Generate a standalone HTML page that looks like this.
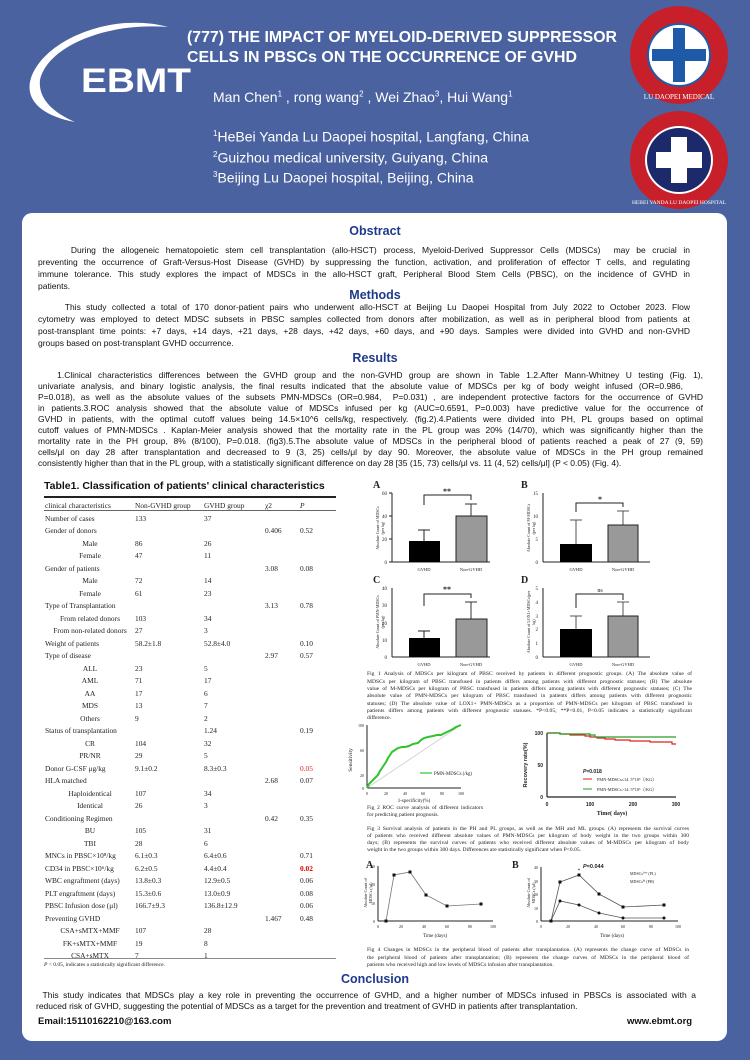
<!DOCTYPE html>
<html><head><meta charset="utf-8">
<style>
*{margin:0;padding:0;box-sizing:border-box}
body{width:750px;height:1060px;background:#4a62a0;position:relative;overflow:hidden;font-family:"Liberation Sans",Arial,sans-serif}
.a{position:absolute;white-space:nowrap}
.panel{position:absolute;left:22px;top:213px;width:705px;height:828px;background:#fff;border-radius:10px}
.h{position:absolute;left:0;width:750px;text-align:center;color:#1f3a8a;font-weight:bold;font-size:12.5px}
.ln{position:absolute;font-size:8.5px;color:#111;text-align:justify;text-align-last:justify;white-space:nowrap;overflow:visible}
.tb{position:absolute;font-family:"Liberation Serif",serif;font-size:7.4px;color:#222;white-space:nowrap}
.cap{position:absolute;font-family:"Liberation Serif",serif;font-size:5.6px;color:#222;text-align:justify;text-align-last:justify;white-space:nowrap;height:7px}
</style></head><body>
<!-- header -->
<svg class="a" style="left:0;top:0" width="750" height="213">
<path d="M168,27 C115,12 45,38 31,78 C24,100 42,116 75,122 C52,112 38,98 40,80 C48,45 110,22 168,27 Z" fill="#fff"/>
<text x="81" y="92" font-family="Liberation Sans" font-weight="bold" font-size="34" fill="#fff" textLength="110" lengthAdjust="spacingAndGlyphs">EBMT</text>
<text x="187" y="42" font-family="Liberation Sans" font-weight="bold" font-size="15.5" fill="#fff" textLength="430" lengthAdjust="spacingAndGlyphs">(777) THE IMPACT OF MYELOID-DERIVED SUPPRESSOR</text>
<text x="187" y="62" font-family="Liberation Sans" font-weight="bold" font-size="15.5" fill="#fff" textLength="390" lengthAdjust="spacingAndGlyphs">CELLS IN PBSCs ON THE OCCURRENCE OF  GVHD</text>
<circle cx="679" cy="55" r="49" fill="#c7202b"/>
<circle cx="679" cy="55" r="31" fill="#fff" stroke="#1e5aa8" stroke-width="2"/>
<rect x="673" y="28" width="12" height="54" fill="#1e5aa8"/>
<rect x="652" y="49" width="54" height="12" fill="#1e5aa8"/>
<circle cx="679" cy="160" r="49" fill="#c7202b"/>
<circle cx="679" cy="160" r="34" fill="#fff"/>
<circle cx="679" cy="160" r="32" fill="#1c2a6b"/>
<rect x="671" y="137" width="16" height="46" fill="#fff"/>
<rect x="656" y="152" width="46" height="16" fill="#fff"/>
<text x="679" y="99" text-anchor="middle" font-family="Liberation Serif" font-size="7" fill="#fff">LU DAOPEI MEDICAL</text>
<text x="679" y="204" text-anchor="middle" font-family="Liberation Serif" font-size="5.5" fill="#fff">HEBEI YANDA LU DAOPEI HOSPITAL</text>
</svg>
<div class="a" style="left:213px;top:89px;color:#fff;font-size:14px">Man Chen<sup style="font-size:8px">1</sup> , rong wang<sup style="font-size:8px">2</sup> , Wei Zhao<sup style="font-size:8px">3</sup>, Hui Wang<sup style="font-size:8px">1</sup></div>
<div class="a" style="left:213px;top:125px;color:#fff;font-size:14px;line-height:18px"><sup style="font-size:8px">1</sup>HeBei Yanda Lu Daopei hospital, Langfang, China<br><sup style="font-size:8px">2</sup>Guizhou medical university, Guiyang, China<br><sup style="font-size:8px">3</sup>Beijing Lu Daopei hospital, Beijing, China</div>

<div class="panel"></div>
<div class="h" style="top:224px">Obstract</div>
<div class="ln" style="left:38px;width:652px;top:245px">&nbsp;&nbsp;&nbsp;&nbsp;&nbsp;During the allogeneic hematopoietic stem cell transplantation (allo-HSCT) process, Myeloid-Derived Suppressor Cells (MDSCs)&nbsp; may be crucial in</div>
<div class="ln" style="left:38px;width:652px;top:257px">preventing the occurrence of Graft-Versus-Host Disease (GVHD) by suppressing the function, activation, and proliferation of effector T cells, and regulating</div>
<div class="ln" style="left:38px;width:652px;top:269px">immune tolerance. This study explores the impact of MDSCs in the allo-HSCT graft, Peripheral Blood Stem Cells (PBSC), on the incidence of GVHD in</div>
<div class="ln" style="left:38px;top:281px;text-align-last:left">patients.</div>
<div class="h" style="top:288px">Methods</div>
<div class="ln" style="left:38px;width:652px;top:302px">&nbsp;&nbsp;&nbsp;&nbsp;&nbsp;This study collected a total of 170 donor-patient pairs who underwent allo-HSCT at Beijing Lu Daopei Hospital from July 2022 to October 2023. Flow</div>
<div class="ln" style="left:38px;width:652px;top:314px">cytometry was employed to detect MDSC subsets in PBSC samples collected from donors after mobilization, as well as in peripheral blood from patients at</div>
<div class="ln" style="left:38px;width:652px;top:326px">post-transplant time points: +7 days, +14 days, +21 days, +28 days, +42 days, +60 days, and +90 days. Samples were divided into GVHD and non-GVHD</div>
<div class="ln" style="left:38px;top:338px;text-align-last:left">groups based on post-transplant GVHD occurrence.</div>
<div class="h" style="top:351px">Results</div>
<div class="ln" style="left:38px;width:665px;top:370px">&nbsp;&nbsp;&nbsp;1.Clinical characteristics differences between the GVHD group and the non-GVHD group are shown in Table 1.2.After Mann-Whitney U testing (Fig. 1),</div>
<div class="ln" style="left:38px;width:645px;top:381px">univariate analysis, and binary logistic analysis, the final results indicated that the absolute value of MDSCs per kg of body weight infused (OR=0.986,</div>
<div class="ln" style="left:38px;width:665px;top:392px">P=0.018), as well as the absolute values of the subsets PMN-MDSCs (OR=0.984,&nbsp; P=0.031) , are independent protective factors for the occurrence of GVHD</div>
<div class="ln" style="left:38px;width:665px;top:403px">in patients.3.ROC analysis showed that the absolute value of MDSCs infused per kg (AUC=0.6591, P=0.003) have predictive value for the occurrence of</div>
<div class="ln" style="left:38px;width:665px;top:414px">GVHD in patients, with the optimal cutoff values being 14.5×10^6 cells/kg, respectively. (fig.2).4.Patients were divided into PH, PL groups based on optimal</div>
<div class="ln" style="left:38px;width:665px;top:425px">cutoff values of PMN-MDSCs . Kaplan-Meier analysis showed that the mortality rate in the PL group was 20% (14/70), which was significantly higher than the</div>
<div class="ln" style="left:38px;width:665px;top:436px">mortality rate in the PH group, 8% (8/100), P=0.018. (fig3).5.The absolute value of MDSCs in the peripheral blood of patients reached a peak of 27 (9, 59)</div>
<div class="ln" style="left:38px;width:665px;top:447px">cells/μl on day 28 after transplantation and decreased to 9 (3, 25) cells/μl by day 90. Moreover, the absolute value of MDSCs in the PH group remained</div>
<div class="ln" style="left:38px;top:458px;text-align-last:left">consistently higher than that in the PL group, with a statistically significant difference on day 28 [35 (15, 73) cells/μl vs. 11 (4, 52) cells/μl] (P &lt; 0.05) (Fig. 4).</div>

<!-- Table -->
<div class="a" style="left:44px;top:480px;font-weight:bold;font-size:10.5px;color:#111">Table1. Classification of patients' clinical characteristics</div>
<div class="a" style="left:44px;top:496px;width:292px;height:1.6px;background:#222"></div>
<div class="a" style="left:44px;top:510px;width:292px;height:0.8px;background:#666"></div>
<div class="a" style="left:44px;top:958px;width:292px;height:0.8px;background:#888"></div>
<div class="tb" style="left:45px;top:501px">clinical characteristics</div>
<div class="tb" style="left:135px;top:501px">Non-GVHD group</div>
<div class="tb" style="left:204px;top:501px">GVHD group</div>
<div class="tb" style="left:265px;top:501px">χ2</div>
<div class="tb" style="left:300px;top:501px;font-style:italic">P</div>
<div id="rows"></div>
<div class="tb" style="left:44px;top:962px;font-size:5.5px"><i>P</i> &lt; 0.05, indicates a statistically significant difference.</div>

<!-- Figures -->
<svg class="a" style="left:0;top:0" width="750" height="1060" font-family="Liberation Serif">
<g font-size="5" fill="#222">
<text x="373" y="488" font-size="10" font-weight="bold" font-family="Liberation Serif">A</text>
<line x1="392" y1="493" x2="392" y2="562" stroke="#222"/><line x1="392" y1="562" x2="490" y2="562" stroke="#222"/>
<g stroke="#222"><line x1="389" y1="493" x2="392" y2="493"/><line x1="389" y1="516" x2="392" y2="516"/><line x1="389" y1="539" x2="392" y2="539"/><line x1="389" y1="562" x2="392" y2="562"/></g>
<text x="387" y="495" text-anchor="end">60</text><text x="387" y="518" text-anchor="end">40</text><text x="387" y="541" text-anchor="end">20</text><text x="387" y="564" text-anchor="end">0</text>
<line x1="424" y1="530" x2="424" y2="541" stroke="#222"/><line x1="418" y1="530" x2="430" y2="530" stroke="#222"/>
<rect x="409" y="541" width="31" height="21" fill="#000"/>
<line x1="471" y1="504" x2="471" y2="516" stroke="#333"/><line x1="465" y1="504" x2="477" y2="504" stroke="#333"/>
<rect x="456" y="516" width="31" height="46" fill="#999" stroke="#222"/>
<path d="M424,505 V495 H471 V500" fill="none" stroke="#222"/>
<text x="447" y="494" font-size="8" text-anchor="middle" font-weight="bold">**</text>
<text x="424" y="571" text-anchor="middle" font-size="4.5">GVHD</text><text x="471" y="571" text-anchor="middle" font-size="4.5">Non-GVHD</text>
<text transform="translate(379,528) rotate(-90)" text-anchor="middle" font-size="4">Absolute Count of MDSCs</text>
<text transform="translate(384,528) rotate(-90)" text-anchor="middle" font-size="4">(per kg)</text>
<text x="521" y="488" font-size="10" font-weight="bold">B</text>
<line x1="543" y1="493" x2="543" y2="562" stroke="#222"/><line x1="543" y1="562" x2="650" y2="562" stroke="#222"/>
<text x="538" y="495" text-anchor="end">15</text><text x="538" y="518" text-anchor="end">10</text><text x="538" y="541" text-anchor="end">5</text><text x="538" y="564" text-anchor="end">0</text>
<line x1="576" y1="520" x2="576" y2="544" stroke="#555"/><line x1="570" y1="520" x2="582" y2="520" stroke="#555"/>
<rect x="560" y="544" width="32" height="18" fill="#000"/>
<line x1="623" y1="511" x2="623" y2="525" stroke="#555"/><line x1="617" y1="511" x2="629" y2="511" stroke="#555"/>
<rect x="608" y="525" width="30" height="37" fill="#999" stroke="#222"/>
<path d="M576,512 V503 H623 V507" fill="none" stroke="#222"/>
<text x="600" y="502" font-size="8" text-anchor="middle" font-weight="bold">*</text>
<text x="576" y="571" text-anchor="middle" font-size="4.5">GVHD</text><text x="623" y="571" text-anchor="middle" font-size="4.5">Non-GVHD</text>
<text transform="translate(530,528) rotate(-90)" text-anchor="middle" font-size="4">Absolute Count of M-MDSCs</text>
<text transform="translate(535,528) rotate(-90)" text-anchor="middle" font-size="4">(per kg)</text>
<text x="373" y="583" font-size="10" font-weight="bold">C</text>
<line x1="392" y1="588" x2="392" y2="657" stroke="#222"/><line x1="392" y1="657" x2="490" y2="657" stroke="#222"/>
<text x="387" y="590" text-anchor="end">40</text><text x="387" y="607" text-anchor="end">30</text><text x="387" y="625" text-anchor="end">20</text><text x="387" y="642" text-anchor="end">10</text><text x="387" y="659" text-anchor="end">0</text>
<line x1="424" y1="631" x2="424" y2="638" stroke="#222"/><line x1="418" y1="631" x2="430" y2="631" stroke="#222"/>
<rect x="409" y="638" width="31" height="19" fill="#000"/>
<line x1="471" y1="602" x2="471" y2="619" stroke="#333"/><line x1="465" y1="602" x2="477" y2="602" stroke="#333"/>
<rect x="456" y="619" width="31" height="38" fill="#999" stroke="#222"/>
<path d="M424,606 V594 H471 V598" fill="none" stroke="#222"/>
<text x="447" y="592" font-size="8" text-anchor="middle" font-weight="bold">**</text>
<text x="424" y="666" text-anchor="middle" font-size="4.5">GVHD</text><text x="471" y="666" text-anchor="middle" font-size="4.5">Non-GVHD</text>
<text transform="translate(379,622) rotate(-90)" text-anchor="middle" font-size="4">Absolute Count of PMN-MDSCs</text>
<text transform="translate(384,622) rotate(-90)" text-anchor="middle" font-size="4">(per kg)</text>
<text x="521" y="583" font-size="10" font-weight="bold">D</text>
<line x1="543" y1="588" x2="543" y2="657" stroke="#222"/><line x1="543" y1="657" x2="650" y2="657" stroke="#222"/>
<text x="538" y="590" text-anchor="end">5</text><text x="538" y="604" text-anchor="end">4</text><text x="538" y="618" text-anchor="end">3</text><text x="538" y="631" text-anchor="end">2</text><text x="538" y="645" text-anchor="end">1</text><text x="538" y="659" text-anchor="end">0</text>
<line x1="576" y1="616" x2="576" y2="629" stroke="#555"/><line x1="570" y1="616" x2="582" y2="616" stroke="#555"/>
<rect x="560" y="629" width="32" height="28" fill="#000"/>
<line x1="623" y1="602" x2="623" y2="616" stroke="#555"/><line x1="617" y1="602" x2="629" y2="602" stroke="#555"/>
<rect x="608" y="616" width="30" height="41" fill="#999" stroke="#222"/>
<path d="M576,608 V594 H623 V600" fill="none" stroke="#222"/>
<text x="600" y="592" font-size="6" text-anchor="middle">ns</text>
<text x="576" y="666" text-anchor="middle" font-size="4.5">GVHD</text><text x="623" y="666" text-anchor="middle" font-size="4.5">Non-GVHD</text>
<text transform="translate(530,622) rotate(-90)" text-anchor="middle" font-size="4">Absolute Count of LOX1+MDSCs(per</text>
<text transform="translate(535,622) rotate(-90)" text-anchor="middle" font-size="4">kg)</text>

<line x1="367" y1="725" x2="367" y2="788" stroke="#222"/><line x1="367" y1="788" x2="461" y2="788" stroke="#222"/>
<text x="364" y="727" text-anchor="end" font-size="4">100</text><text x="364" y="752" text-anchor="end" font-size="4">60</text><text x="364" y="777" text-anchor="end" font-size="4">20</text><text x="364" y="790" text-anchor="end" font-size="4">0</text>
<g font-size="4" text-anchor="middle"><text x="367" y="795">0</text><text x="386" y="795">20</text><text x="405" y="795">40</text><text x="423" y="795">60</text><text x="442" y="795">80</text><text x="461" y="795">100</text></g>
<line x1="367" y1="788" x2="461" y2="725" stroke="#ccc" stroke-width="0.8"/>
<polyline points="367,788 369,784 372,781 375,778 378,775 380,771 382,768 384,765 386,762 388,758 390,755 392,752 395,750 398,748 402,747 405,747 409,746 413,744 418,743 421,740 424,738 428,737 433,736 437,735 441,735 445,733 449,731 453,729 456,727 461,725" fill="none" stroke="#2fc42f" stroke-width="2"/>
<text transform="translate(352,760) rotate(-90)" text-anchor="middle" font-size="5.5">Sensitivity</text>
<text x="414" y="802" text-anchor="middle" font-size="5">1-specificity(%)</text>
<line x1="420" y1="773" x2="432" y2="773" stroke="#2fc42f" stroke-width="1.2"/>
<text x="434" y="775" font-size="4.8">PMN-MDSCs (/kg)</text>

<line x1="547" y1="733" x2="547" y2="797" stroke="#222" stroke-width="1.2"/><line x1="547" y1="797" x2="676" y2="797" stroke="#222" stroke-width="1.2"/>
<g font-size="5" font-weight="bold" font-family="Liberation Sans"><text x="543" y="735" text-anchor="end">100</text><text x="543" y="767" text-anchor="end">50</text><text x="543" y="799" text-anchor="end">0</text>
<text x="547" y="806" text-anchor="middle">0</text><text x="590" y="806" text-anchor="middle">100</text><text x="633" y="806" text-anchor="middle">200</text><text x="676" y="806" text-anchor="middle">300</text></g>
<polyline points="547,733 560,733 560,734 570,734 570,735 585,735 585,736 590,736 590,737 597,737 597,738 605,738 605,739 615,739 615,740 630,740 630,741 650,741 650,742 672,742 672,744 676,744" fill="none" stroke="#dd2222" stroke-width="1.2"/>
<polyline points="547,733 560,733 560,734 590,734 590,735 595,735 595,737 676,737" fill="none" stroke="#2a9a2a" stroke-width="1.2"/>
<text x="583" y="773" font-size="5" font-weight="bold" font-family="Liberation Sans"><tspan font-style="italic">P</tspan>=0.018</text>
<line x1="583" y1="779" x2="592" y2="779" stroke="#dd2222"/><text x="597" y="781" font-size="4.3">PMN-MDSCs≤14. 5*10⁶（/KG）</text>
<line x1="583" y1="789" x2="592" y2="789" stroke="#2a9a2a"/><text x="597" y="791" font-size="4.3">PMN-MDSCs&gt;14. 5*10⁶（/KG）</text>
<text transform="translate(527,765) rotate(-90)" text-anchor="middle" font-size="5.5" font-weight="bold" font-family="Liberation Sans">Recovery rate(%)</text>
<text x="612" y="815" text-anchor="middle" font-size="6" font-weight="bold">Time( days)</text>

<text x="366" y="868" font-size="10" font-weight="bold">A</text>
<line x1="378" y1="866" x2="378" y2="921" stroke="#222"/><line x1="378" y1="921" x2="493" y2="921" stroke="#222"/>
<g font-size="4" text-anchor="end"><text x="375" y="868">30</text><text x="375" y="886">20</text><text x="375" y="905">10</text><text x="375" y="923">0</text></g>
<g font-size="4" text-anchor="middle"><text x="378" y="928">0</text><text x="401" y="928">20</text><text x="424" y="928">40</text><text x="447" y="928">60</text><text x="470" y="928">80</text><text x="493" y="928">100</text></g>
<polyline points="386,921 394,875 410,872 426,895 447,906 481,904" fill="none" stroke="#777" stroke-width="0.8"/>
<g fill="#111"><rect x="384.5" y="919.5" width="3" height="3"/><rect x="392.5" y="873.5" width="3" height="3"/><rect x="408.5" y="870.5" width="3" height="3"/><rect x="424.5" y="893.5" width="3" height="3"/><rect x="445.5" y="904.5" width="3" height="3"/><rect x="479.5" y="902.5" width="3" height="3"/></g>
<text transform="translate(367,893) rotate(-90)" text-anchor="middle" font-size="4">Absolute Count of</text>
<text transform="translate(372,893) rotate(-90)" text-anchor="middle" font-size="4">MDSCs (/μl)</text>
<text x="435" y="937" text-anchor="middle" font-size="5">Time  (days)</text>
<text x="512" y="868" font-size="10" font-weight="bold">B</text>
<line x1="541" y1="867" x2="541" y2="921" stroke="#222"/><line x1="541" y1="921" x2="678" y2="921" stroke="#222"/>
<g font-size="4" text-anchor="end"><text x="538" y="869">40</text><text x="538" y="883">30</text><text x="538" y="896">20</text><text x="538" y="910">10</text><text x="538" y="923">0</text></g>
<g font-size="4" text-anchor="middle"><text x="541" y="928">0</text><text x="568" y="928">20</text><text x="596" y="928">40</text><text x="623" y="928">60</text><text x="651" y="928">80</text><text x="678" y="928">100</text></g>
<polyline points="551,921 560,882 579,875 599,894 623,907 664,905" fill="none" stroke="#555" stroke-width="0.8"/>
<polyline points="551,921 560,901 579,905 599,913 623,918 664,918" fill="none" stroke="#555" stroke-width="0.8"/>
<g fill="#111"><rect x="549.5" y="919.5" width="3" height="3"/><rect x="558.5" y="880.5" width="3" height="3"/><rect x="577.5" y="873.5" width="3" height="3"/><rect x="597.5" y="892.5" width="3" height="3"/><rect x="621.5" y="905.5" width="3" height="3"/><rect x="662.5" y="903.5" width="3" height="3"/>
<circle cx="560" cy="901" r="1.5"/><circle cx="579" cy="905" r="1.5"/><circle cx="599" cy="913" r="1.5"/><circle cx="623" cy="918" r="1.5"/><circle cx="664" cy="918" r="1.5"/></g>
<text x="579" y="872" font-size="5" text-anchor="middle">*</text>
<text x="583" y="868" font-size="5.5" font-weight="bold" font-family="Liberation Sans"><tspan font-style="italic">P</tspan>=0.044</text>
<text x="630" y="875" font-size="4">MDSCs<tspan font-size="3" dy="-1.5">low</tspan><tspan dy="1.5"> (PL)</tspan></text>
<text x="630" y="883" font-size="4">MDSCs<tspan font-size="3" dy="-1.5">hi</tspan><tspan dy="1.5"> (PH)</tspan></text>
<text transform="translate(530,893) rotate(-90)" text-anchor="middle" font-size="4">Absolute Count of</text>
<text transform="translate(535,893) rotate(-90)" text-anchor="middle" font-size="4">MDSCs (/μl)</text>
<text x="612" y="937" text-anchor="middle" font-size="5">Time  (days)</text>
</g>
</svg>

<div class="cap" style="left:367px;width:325px;top:671px">Fig 1 Analysis of MDSCs per kilogram of PBSC received by patients in different prognostic groups. (A) The absolute value of</div>
<div class="cap" style="left:367px;width:325px;top:679px">MDSCs per kilogram of PBSC transfused in patients differs among patients with different prognostic statuses; (B) The absolute</div>
<div class="cap" style="left:367px;width:325px;top:686px">value of M-MDSCs per kilogram of PBSC transfused in patients differs among patients with different prognostic statuses; (C) The</div>
<div class="cap" style="left:367px;width:325px;top:693px">absolute value of PMN-MDSCs per kilogram of PBSC transfused in patients differs among patients with different prognostic</div>
<div class="cap" style="left:367px;width:325px;top:701px">statuses; (D) The absolute value of LOX1+ PMN-MDSCs as a proportion of PMN-MDSCs per kilogram of PBSC transfused in</div>
<div class="cap" style="left:367px;width:325px;top:708px">patients differs among patients with different prognostic statuses. *P&lt;0.05, **P&lt;0.01, P&lt;0.05 indicates a statistically significant</div>
<div class="cap" style="left:367px;top:715px">difference.</div>
<div class="cap" style="left:367px;width:116px;top:805px">Fig 2 ROC curve analysis of different indicators</div>
<div class="cap" style="left:367px;top:812px">for predicting patient prognosis.</div>
<div class="cap" style="left:367px;width:322px;top:826px">Fig 3 Survival analysis of patients in the PH and PL groups, as well as the MH and ML groups. (A) represents the survival curves</div>
<div class="cap" style="left:367px;width:322px;top:833px">of patients who received different absolute values of PMN-MDSCs per kilogram of body weight in the two groups within 300</div>
<div class="cap" style="left:367px;width:322px;top:840px">days; (B) represents the survival curves of patients who received different absolute values of M-MDSCs per kilogram of body</div>
<div class="cap" style="left:367px;top:847px">weight in the two groups within 300 days. Differences are statistically significant when P&lt;0.05.</div>
<div class="cap" style="left:367px;width:322px;top:947px">Fig 4 Changes in MDSCs in the peripheral blood of patients after transplantation. (A) represents the change curve of MDSCs in</div>
<div class="cap" style="left:367px;width:322px;top:955px">the peripheral blood of patients after transplantation; (B) represents the change curves of MDSCs in the peripheral blood of</div>
<div class="cap" style="left:367px;top:962px">patients who received high and low levels of MDSCs infusion after transplantation.</div>

<div class="h" style="top:972px">Conclusion</div>
<div class="ln" style="left:38px;width:658px;top:990px">&nbsp;This study indicates that MDSCs play a key role in preventing the occurrence of GVHD, and a higher number of MDSCs infused in PBSCs is associated with a</div>
<div class="ln" style="left:36px;top:1001px;text-align-last:left">reduced risk of GVHD, suggesting the potential of MDSCs as a target for the prevention and treatment of GVHD in patients after transplantation.</div>
<div class="a" style="left:38px;top:1016px;font-weight:bold;font-size:9.5px;color:#111">Email:15110162210@163.com</div>
<div class="a" style="left:627px;top:1016px;font-weight:bold;font-size:9.5px;color:#111">www.ebmt.org</div>

<script>
var R=[["Number of cases","133","37","",""],["Gender of donors","","","0.406","0.52"],["*Male","86","26","",""],["*Female","47","11","",""],["Gender of patients","","","3.08","0.08"],["*Male","72","14","",""],["*Female","61","23","",""],["Type of Transplantation","","","3.13","0.78"],["*From related donors","103","34","",""],["*From non-related donors","27","3","",""],["Weight of patients","58.2±1.8","52.8±4.0","","0.10"],["Type of disease","","","2.97","0.57"],["*ALL","23","5","",""],["*AML","71","17","",""],["*AA","17","6","",""],["*MDS","13","7","",""],["*Others","9","2","",""],["Status of transplantation","","1.24","","0.19"],["*CR","104","32","",""],["*PR/NR","29","5","",""],["Donor G-CSF μg/kg","9.1±0.2","8.3±0.3","","r0.05"],["HLA matched","","","2.68","0.07"],["*Haploidentical","107","34","",""],["*Identical","26","3","",""],["Conditioning Regimen","","","0.42","0.35"],["*BU","105","31","",""],["*TBI","28","6","",""],["MNCs in PBSC×10⁸/kg","6.1±0.3","6.4±0.6","","0.71"],["CD34 in PBSC×10⁶/kg","6.2±0.5","4.4±0.4","","R0.02"],["WBC engraftment (days)","13.8±0.3","12.9±0.5","","0.06"],["PLT engraftment (days)","15.3±0.6","13.0±0.9","","0.08"],["PBSC Infusion dose (μl)","166.7±9.3","136.8±12.9","","0.06"],["Preventing GVHD","","","1.467","0.48"],["*CSA+sMTX+MMF","107","28","",""],["*FK+sMTX+MMF","19","8","",""],["*CSA+sMTX","7","1","",""]];
var h="";R.forEach(function(r,i){var y=514+i*12.49;var l=r[0];
if(l[0]=="*")h+='<div class="tb" style="left:40px;width:100px;text-align:center;top:'+y+'px">'+l.slice(1)+'</div>';else h+='<div class="tb" style="left:45px;top:'+y+'px">'+l+'</div>';
h+='<div class="tb" style="left:135px;top:'+y+'px">'+r[1]+'</div><div class="tb" style="left:204px;top:'+y+'px">'+r[2]+'</div><div class="tb" style="left:265px;top:'+y+'px">'+r[3]+'</div>';
var p=r[4],st="";if(p[0]=="r"){p=p.slice(1);st="color:#d22;"}else if(p[0]=="R"){p=p.slice(1);st="color:#d00;font-weight:bold;"}
h+='<div class="tb" style="left:300px;top:'+y+'px;'+st+'">'+p+'</div>';});
document.getElementById("rows").innerHTML=h;
</script>
</body></html>
